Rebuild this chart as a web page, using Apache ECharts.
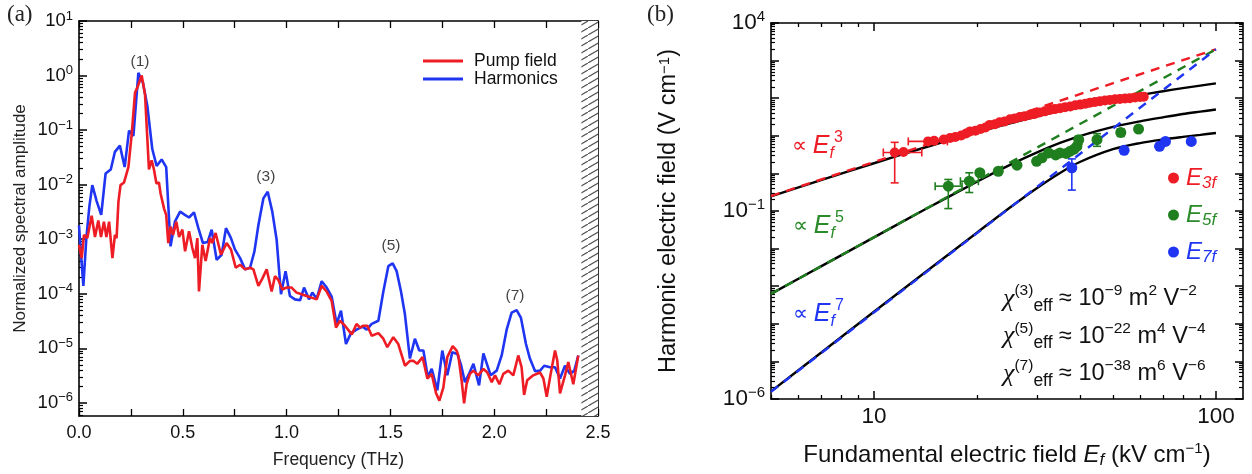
<!DOCTYPE html>
<html><head><meta charset="utf-8">
<script src="https://cdn.jsdelivr.net/npm/echarts@6/dist/echarts.min.js"></script>
<style>html,body{margin:0;padding:0;background:#fff}#c{width:1252px;height:474px}</style>
</head><body><div id="c"></div>
<script>
// ---------- Panel (a) data ----------
const freqHarm = [0.000,0.010,0.021,0.035,0.050,0.064,0.085,0.107,0.128,0.153,0.173,0.197,0.220,0.241,0.262,0.286,0.308,0.329,0.353,0.374,0.398,0.420,0.441,0.462,0.487,0.510,0.530,0.554,0.575,0.597,0.620,0.639,0.663,0.687,0.708,0.732,0.751,0.776,0.800,0.824,0.845,0.864,0.888,0.909,0.931,0.952,0.973,0.995,1.016,1.040,1.065,1.084,1.108,1.124,1.145,1.169,1.193,1.217,1.241,1.262,1.286,1.310,1.337,1.366,1.386,1.410,1.442,1.466,1.490,1.511,1.530,1.551,1.570,1.594,1.618,1.639,1.659,1.680,1.699,1.726,1.750,1.774,1.798,1.822,1.840,1.859,1.880,1.900,1.927,1.948,1.983,2.012,2.036,2.060,2.084,2.108,2.129,2.153,2.172,2.197,2.221,2.241,2.269,2.293,2.317,2.341,2.365,2.386,2.405];
const ampHarm = [1.8e-3,5.0e-4,1.4e-4,1.0e-3,4.0e-3,9.8e-3,5.0e-3,2.8e-3,1.6e-2,1.9e-2,4.0e-2,5.2e-2,2.1e-2,9.8e-2,7.8e-2,1.12,0.74,0.28,4.5e-2,2.2e-2,2.9e-2,2.1e-2,7.4e-4,2.1e-3,3.2e-3,2.8e-3,2.5e-3,3.1e-3,1.6e-3,8.5e-4,8.9e-4,1.5e-3,4.2e-4,5.2e-4,1.6e-3,1.05e-3,6.5e-4,4.5e-4,2.8e-4,3.0e-4,6.0e-4,1.8e-3,5.6e-3,7.4e-3,3.2e-3,9.8e-4,9.8e-5,2.6e-4,9.1e-5,7.9e-5,7.6e-5,1.3e-4,7.9e-5,1.05e-4,8.1e-5,1.7e-4,1.3e-4,8.9e-5,2.8e-5,4.9e-5,1.2e-5,1.9e-5,2.2e-5,2.5e-5,2.2e-5,2.8e-5,3.2e-5,1.1e-4,3.2e-4,3.6e-4,2.6e-4,1.1e-4,4.2e-5,6.5e-6,1.5e-5,9.1e-6,9.1e-6,3.0e-6,4.2e-6,1.7e-6,9.1e-6,3.2e-6,8.5e-6,7.9e-6,5.0e-6,2.4e-6,3.5e-6,5.2e-6,2.1e-6,8.1e-6,3.2e-6,3.9e-6,7.4e-6,2.2e-5,4.5e-5,5.0e-5,3.6e-5,1.2e-5,6.5e-6,3.8e-6,3.9e-6,4.8e-6,4.5e-6,4.5e-6,2.8e-6,4.8e-6,3.4e-6,3.9e-6,7.4e-6];
const freqPump = [0.000,0.013,0.024,0.040,0.061,0.077,0.093,0.106,0.120,0.132,0.145,0.161,0.173,0.181,0.190,0.200,0.217,0.238,0.254,0.270,0.281,0.302,0.318,0.337,0.350,0.361,0.373,0.385,0.393,0.410,0.420,0.430,0.441,0.453,0.469,0.482,0.498,0.511,0.530,0.546,0.559,0.570,0.578,0.594,0.610,0.631,0.642,0.658,0.684,0.711,0.732,0.755,0.776,0.800,0.824,0.840,0.864,0.883,0.904,0.928,0.944,0.960,0.979,1.000,1.024,1.048,1.072,1.096,1.120,1.145,1.169,1.193,1.217,1.238,1.257,1.281,1.314,1.337,1.354,1.370,1.389,1.410,1.442,1.466,1.485,1.514,1.538,1.570,1.594,1.610,1.629,1.655,1.678,1.699,1.720,1.736,1.755,1.774,1.800,1.819,1.827,1.843,1.855,1.867,1.883,1.900,1.923,1.948,1.967,1.988,2.004,2.025,2.044,2.068,2.092,2.116,2.132,2.144,2.159,2.188,2.221,2.237,2.253,2.272,2.293,2.304,2.317,2.341,2.357,2.381,2.405];
const ampPump = [7.9e-4,4.5e-4,1.2e-3,1.05e-3,2.7e-3,1.1e-3,2.2e-3,1.1e-3,2.1e-3,1.1e-3,2.1e-3,4.5e-4,1.2e-3,1.05e-3,4.9e-3,9.8e-3,1.1e-2,2.1e-2,8.5e-2,0.49,0.6,1.0,0.45,1.9e-2,2.8e-2,1.9e-2,1.05e-2,1.1e-2,6.9e-3,3.6e-3,2.8e-3,8.5e-4,1.7e-3,1.2e-3,2.1e-3,1.1e-3,1.5e-3,6.0e-4,1.4e-3,6.9e-4,4.5e-4,1.05e-3,1.1e-4,7.9e-4,4.0e-4,1.05e-3,8.5e-4,1.3e-3,5.2e-4,8.5e-4,6.5e-4,3.0e-4,3.4e-4,2.8e-4,3.0e-4,2.8e-4,1.4e-4,1.9e-4,2.8e-4,1.1e-4,2.1e-4,1.8e-4,1.2e-4,1.3e-4,1.3e-4,1.05e-4,9.8e-5,9.1e-5,8.5e-5,7.9e-5,1.4e-4,1.1e-4,7.4e-5,2.4e-5,3.2e-5,2.6e-5,1.8e-5,2.8e-5,2.4e-5,2.6e-5,2.6e-5,1.7e-5,1.9e-5,1.5e-5,1.05e-5,1.6e-5,1.2e-5,4.8e-6,5.9e-6,5.9e-6,5.2e-6,6.9e-6,2.8e-6,3.4e-6,1.5e-6,1.1e-6,1.9e-6,6.9e-6,1.1e-5,9.1e-6,7.4e-6,2.6e-6,9.8e-7,2.2e-6,3.4e-6,3.9e-6,3.2e-6,4.2e-6,3.6e-6,2.4e-6,3.2e-6,2.2e-6,3.4e-6,3.9e-6,3.2e-6,7.4e-6,4.5e-6,1.4e-6,2.6e-6,3.2e-6,3.6e-6,2.8e-6,1.3e-6,3.4e-6,9.1e-6,5.9e-6,1.5e-6,3.2e-6,5.6e-6,2.2e-6,7.4e-6];
const peakText = ['(1)','(3)','(5)','(7)'];
const peakFreq = [0.294, 0.90, 1.503, 2.10];
const peakAmp = [1.8, 1.4e-2, 7.5e-4, 9.2e-5];
const hatchFrom = 2.42, hatchTo = 2.5;
const yDecadesA = [1e-6,1e-5,1e-4,1e-3,1e-2,1e-1,1,10];

// ---------- Panel (b) data ----------
const fitField = [5, 100];
const fit3 = [0.25, 2000];
const fit5 = [6.25e-4, 2000];
const fit7 = [1.56e-6, 2000];
const curveField = [5,7,10,14,20,25,30,35,40,50,60,70,80,90,100];
const curve3 = [0.245,0.661,1.86,4.81,12.4,21.6,32.9,45.8,59.8,90.2,121,153,185,216,247];
const curve5 = [6.25e-4,3.36e-3,1.99e-2,0.106,0.6,1.68,3.62,6.44,9.86,17.3,24.2,31,38,44,50];
const curve7 = [1.6e-6,1.7e-5,2.1e-4,2.2e-3,2.65e-2,0.124,0.41,1.03,2.01,4.4,6.4,8.0,9.35,10.6,11.9];
const e3Field = [11.5,12.2,14.4,15.0,16.0,16.7,17.3,18.0,18.6,19.1,19.8,20.5,21.2,21.8,22.6,23.3,24.1,25.0,25.8,26.7,27.6,28.6,29.5,30.5,31.6,32.7,33.8,35.0,36.2,37.5,38.8,40.1,41.5,42.8,44.3,45.8,47.4,49.0,50.7,52.4,54.2,56.0,58.0,60.0,61.5];
const e3Value = [3.6,3.7,7.1,7.4,8.0,8.7,9.3,10.2,11.5,13.1,13.6,15.1,16.6,19.5,20.4,22.9,24.0,27.5,28.8,31.6,33.1,36.3,38.0,41.7,44.7,49.0,51.3,54.0,57.5,60.3,64.6,67.6,71.0,75.9,79.4,83.2,87.1,90.2,93.3,95.5,97.7,100,105,108,110];
const e5Field = [16.5,19.0,20.4,23.1,26.2,29.9,31.0,32.4,34.0,35.0,36.5,37.5,38.5,39.2,39.7,44.9,52.7,59.4];
const e5Value = [0.458,0.62,1.04,1.14,1.65,2.1,2.6,3.5,3.1,3.5,3.4,3.9,4.4,5.2,7.9,7.9,12.3,15.1];
const e7Field = [37.9,53.9,68.4,71.2,84.7];
const e7Value = [1.41,4.1,5.25,7.1,7.1];
// error bars: [E, V, Elow, Ehigh, Vlow, Vhigh]
const err3 = [[11.5,3.6,10.65,13.8,0.56,6.7],[14.4,7.1,12.6,16.4,6.4,7.9]];
const err5 = [[16.5,0.458,15.1,18.1,0.116,0.69],[19.0,0.62,17.9,20.2,0.31,1.04],[39.7,7.9,39.0,40.5,5.9,9.8],[44.9,7.9,44.2,45.6,5.25,11.4],[52.7,12.3,52.0,53.4,9.6,15.2]];
const err7 = [[37.9,1.41,37.2,38.6,0.36,2.43]];
const xMajorB = [10,100];
const xMinorB = [5,6,7,8,9,20,30,40,50,60,70,80,90];
const yLabelB = [1e-6,1e-1,1e4];

// ---------- helpers ----------
const RED='#ee1c24', BLUE='#1f35f2', GREEN='#1f7f1f', GREEN_T='#2a8a2a';
const FONT='"Liberation Sans", Arial, Helvetica, sans-serif';
const zip=(a,b)=>a.map((v,i)=>[v,b[i]]);
const decades=(a,b)=>{const r=[];for(let e=a;e<=b;e++)r.push(Math.pow(10,e));return r;};
const minors=(a,b)=>{const r=[];for(let e=a;e<b;e++)for(let k=2;k<=9;k++)r.push(k*Math.pow(10,e));return r;};
const expLabel=v=>{const e=Math.round(Math.log10(v));return '{b|10}{s|'+(e<0?'\u2212'+(-e):e)+'}';};

function hatchPattern(){
  const c=document.createElement('canvas');c.width=12;c.height=7;
  const g=c.getContext('2d');g.fillStyle='#fff';g.fillRect(0,0,12,7);
  g.strokeStyle='#555';g.lineWidth=1.2;g.beginPath();g.moveTo(-2,8.17);g.lineTo(14,-1.17);g.stroke();
  return c;
}

const axisLine={show:true,lineStyle:{color:'#000',width:1.6}};
const noSplit={show:false};

function errRender(color){
  return function(params, api){
    const x=api.value(0), y=api.value(1);
    const a=api.coord([api.value(2),y]), b=api.coord([api.value(3),y]);
    const c=api.coord([x,api.value(4)]), d=api.coord([x,api.value(5)]);
    const st={stroke:color,lineWidth:1.6};const cap=4;
    return {type:'group',children:[
      {type:'line',shape:{x1:a[0],y1:a[1],x2:b[0],y2:b[1]},style:st},
      {type:'line',shape:{x1:a[0],y1:a[1]-cap,x2:a[0],y2:a[1]+cap},style:st},
      {type:'line',shape:{x1:b[0],y1:b[1]-cap,x2:b[0],y2:b[1]+cap},style:st},
      {type:'line',shape:{x1:c[0],y1:c[1],x2:d[0],y2:d[1]},style:st},
      {type:'line',shape:{x1:c[0]-cap,y1:c[1],x2:c[0]+cap,y2:c[1]},style:st},
      {type:'line',shape:{x1:d[0]-cap,y1:d[1],x2:d[0]+cap,y2:d[1]},style:st}
    ]};
  };
}

const aMin=5.75e-7, aMax=10;
const richA={b:{fontSize:18.5,fontFamily:FONT,color:'#111',lineHeight:23},s:{fontSize:13,fontFamily:FONT,color:'#111',verticalAlign:'top'}};
const richB={b:{fontSize:22.5,fontFamily:FONT,color:'#111',lineHeight:28},s:{fontSize:15,fontFamily:FONT,color:'#111',verticalAlign:'top'}};

function propText(color, n){
  return {text:'{p|\u221D }{e|E}{sb|f}{sp|'+n+'}',rich:{
    p:{fontSize:21,fontFamily:FONT,fill:color,lineHeight:32},
    e:{fontSize:25,fontFamily:FONT,fontStyle:'italic',fill:color,lineHeight:32},
    sb:{fontSize:16,fontFamily:FONT,fontStyle:'italic',fill:color,verticalAlign:'bottom'},
    sp:{fontSize:16,fontFamily:FONT,fill:color,verticalAlign:'top'}}};
}

const option={
  backgroundColor:'#fff',
  animation:false,
  grid:[
    {left:79,top:21,width:519,height:398},
    {left:771,top:23,width:472,height:379}
  ],
  xAxis:[
    {gridIndex:0,type:'value',min:0,max:2.5,interval:0.25,position:'bottom',axisLine,
     axisTick:{inside:true,length:7,lineStyle:{color:'#000',width:1.3}},
     axisLabel:{color:'#111',fontSize:18,fontFamily:FONT,margin:8,
       formatter:v=>Math.abs(v*2-Math.round(v*2))<1e-6?v.toFixed(1):''},
     splitLine:noSplit,name:'Frequency (THz)',nameLocation:'middle',nameGap:35,
     nameTextStyle:{fontSize:17.5,fontFamily:FONT,color:'#222'}},
    {gridIndex:0,type:'value',min:0,max:2.5,interval:0.25,position:'top',axisLine,
     axisTick:{inside:true,length:7,lineStyle:{color:'#000',width:1.3}},axisLabel:{show:false},splitLine:noSplit},
    {gridIndex:1,type:'log',min:5,max:120,position:'bottom',axisLine,
     axisTick:{inside:true,length:8,customValues:xMajorB,lineStyle:{color:'#000',width:1.5}},
     axisLabel:{customValues:xMajorB,color:'#111',fontSize:22.5,fontFamily:FONT,margin:6,formatter:v=>String(Math.round(v))},
     splitLine:noSplit,
     name:'Fundamental electric field {i|E}{sb|f} (kV cm{sp|\u22121})',nameLocation:'middle',nameGap:42,
     nameTextStyle:{fontSize:24,fontFamily:FONT,color:'#111',rich:{
       i:{fontSize:24,fontFamily:FONT,fontStyle:'italic',color:'#111',lineHeight:28},
       sb:{fontSize:17,fontFamily:FONT,fontStyle:'italic',color:'#111',verticalAlign:'bottom'},
       sp:{fontSize:15,fontFamily:FONT,color:'#111',verticalAlign:'top'}}}},
    {gridIndex:1,type:'log',min:5,max:120,position:'bottom',axisLine:{show:false},
     axisTick:{inside:true,length:4,customValues:xMinorB,lineStyle:{color:'#000',width:1.3}},axisLabel:{show:false},splitLine:noSplit},
    {gridIndex:1,type:'log',min:5,max:120,position:'top',axisLine,
     axisTick:{inside:true,length:8,customValues:xMajorB,lineStyle:{color:'#000',width:1.5}},axisLabel:{show:false},splitLine:noSplit},
    {gridIndex:1,type:'log',min:5,max:120,position:'top',axisLine:{show:false},
     axisTick:{inside:true,length:4,customValues:xMinorB,lineStyle:{color:'#000',width:1.3}},axisLabel:{show:false},splitLine:noSplit}
  ],
  yAxis:[
    {gridIndex:0,type:'log',min:aMin,max:aMax,position:'left',axisLine,
     axisTick:{inside:true,length:8,customValues:yDecadesA,lineStyle:{color:'#000',width:1.5}},
     axisLabel:{customValues:yDecadesA,formatter:expLabel,rich:richA,margin:6},splitLine:noSplit,
     name:'Normalized spectral amplitude',nameLocation:'middle',nameGap:50,
     nameTextStyle:{fontSize:17,fontFamily:FONT,color:'#222'}},
    {gridIndex:0,type:'log',min:aMin,max:aMax,position:'left',axisLine:{show:false},
     axisTick:{inside:true,length:4,customValues:minors(-7,1).filter(v=>v>=aMin),lineStyle:{color:'#000',width:1.2}},
     axisLabel:{show:false},splitLine:noSplit},
    {gridIndex:0,type:'log',min:aMin,max:aMax,position:'right',axisLine,axisTick:{show:false},axisLabel:{show:false},splitLine:noSplit},
    {gridIndex:1,type:'log',min:1e-6,max:1e4,position:'left',axisLine,
     axisTick:{inside:true,length:8,customValues:decades(-6,4),lineStyle:{color:'#000',width:1.5}},
     axisLabel:{customValues:yLabelB,formatter:expLabel,rich:richB,margin:6},splitLine:noSplit,
     name:'Harmonic electric field (V cm{sp|\u22121})',nameLocation:'middle',nameGap:90,
     nameTextStyle:{fontSize:23.5,fontFamily:FONT,color:'#111',rich:{sp:{fontSize:15,fontFamily:FONT,color:'#111',verticalAlign:'top'}}}},
    {gridIndex:1,type:'log',min:1e-6,max:1e4,position:'left',axisLine:{show:false},
     axisTick:{inside:true,length:4,customValues:minors(-6,4),lineStyle:{color:'#000',width:1.2}},axisLabel:{show:false},splitLine:noSplit},
    {gridIndex:1,type:'log',min:1e-6,max:1e4,position:'right',axisLine,
     axisTick:{inside:true,length:8,customValues:decades(-6,4),lineStyle:{color:'#000',width:1.5}},axisLabel:{show:false},splitLine:noSplit},
    {gridIndex:1,type:'log',min:1e-6,max:1e4,position:'right',axisLine:{show:false},
     axisTick:{inside:true,length:4,customValues:minors(-6,4),lineStyle:{color:'#000',width:1.2}},axisLabel:{show:false},splitLine:noSplit}
  ],
  legend:[
    {data:['Pump field','Harmonics'],orient:'vertical',left:418,top:47,itemWidth:40,itemHeight:3,itemGap:0,icon:'rect',
     textStyle:{fontSize:17.5,fontFamily:FONT,color:'#111',lineHeight:18,padding:[0,0,0,6]},selectedMode:false},
    {data:['E3f','E5f','E7f'],orient:'vertical',left:1163,top:161,itemWidth:11,itemHeight:11,itemGap:11,icon:'circle',selectedMode:false,
     formatter:n=>'{e'+n[1]+'|E}{s'+n[1]+'|'+n[1]+'f}',
     textStyle:{padding:[0,0,0,2],rich:{
       e3:{fontSize:24,fontFamily:FONT,fontStyle:'italic',color:RED,lineHeight:28},
       s3:{fontSize:17,fontFamily:FONT,fontStyle:'italic',color:RED,verticalAlign:'bottom'},
       e5:{fontSize:24,fontFamily:FONT,fontStyle:'italic',color:GREEN_T,lineHeight:28},
       s5:{fontSize:17,fontFamily:FONT,fontStyle:'italic',color:GREEN_T,verticalAlign:'bottom'},
       e7:{fontSize:24,fontFamily:FONT,fontStyle:'italic',color:BLUE,lineHeight:28},
       s7:{fontSize:17,fontFamily:FONT,fontStyle:'italic',color:BLUE,verticalAlign:'bottom'}}}}
  ],
  graphic:[
    {type:'text',left:7,top:3,style:{text:'(a)',font:'23px "Liberation Serif", "Times New Roman", serif',fill:'#222'}},
    {type:'text',left:647,top:3,style:{text:'(b)',font:'23px "Liberation Serif", "Times New Roman", serif',fill:'#222'}},
    {type:'text',left:792,top:130,style:propText(RED,'3')},
    {type:'text',left:793,top:210,style:propText(GREEN_T,'5')},
    {type:'text',left:793,top:298,style:propText(BLUE,'7')}
  ].concat([['3','9','2','2'],['5','22','4','4'],['7','38','6','6']].map((r,i)=>({
    type:'text',left:1003,top:283+i*37.5,style:{
      text:'{c|\u03C7}{sp|('+r[0]+')}{sb|eff}{t| \u2248 10}{sp|\u2212'+r[1]+'}{t| m}{sp|'+r[2]+'}{t| V}{sp|\u2212'+r[3]+'}',
      rich:{c:{fontSize:26,fontFamily:'"Liberation Serif", serif',fontStyle:'italic',fill:'#111',lineHeight:32},
        t:{fontSize:23.5,fontFamily:FONT,fill:'#111',lineHeight:32},
        sp:{fontSize:15.5,fontFamily:FONT,fill:'#111',verticalAlign:'top'},
        sb:{fontSize:17.5,fontFamily:FONT,fill:'#111',verticalAlign:'bottom'}}}}))),
  series:[
    {name:'Harmonics',type:'line',xAxisIndex:0,yAxisIndex:0,data:zip(freqHarm,ampHarm),showSymbol:false,
     lineStyle:{color:BLUE,width:2.6},itemStyle:{color:BLUE},z:2,
     markArea:{silent:true,itemStyle:{color:{image:hatchPattern(),repeat:'repeat'}},data:[[{xAxis:hatchFrom},{xAxis:hatchTo}]]}},
    {name:'Pump field',type:'line',xAxisIndex:0,yAxisIndex:0,data:zip(freqPump,ampPump),showSymbol:false,
     lineStyle:{color:RED,width:2.6},itemStyle:{color:RED},z:3},
    {name:'peaks',type:'scatter',xAxisIndex:0,yAxisIndex:0,data:zip(peakFreq,peakAmp),symbolSize:1,itemStyle:{color:'rgba(0,0,0,0)'},
     label:{show:true,position:'inside',formatter:p=>peakText[p.dataIndex],fontSize:15.5,fontFamily:FONT,color:'#111'},z:4},
    // panel b
    {name:'sat3',type:'line',xAxisIndex:2,yAxisIndex:3,data:zip(curveField,curve3),showSymbol:false,smooth:0.3,lineStyle:{color:'#000',width:2.4},z:2},
    {name:'sat5',type:'line',xAxisIndex:2,yAxisIndex:3,data:zip(curveField,curve5),showSymbol:false,smooth:0.3,lineStyle:{color:'#000',width:2.4},z:2},
    {name:'sat7',type:'line',xAxisIndex:2,yAxisIndex:3,data:zip(curveField,curve7),showSymbol:false,smooth:0.3,lineStyle:{color:'#000',width:2.4},z:2},
    {name:'fit3',type:'line',xAxisIndex:2,yAxisIndex:3,data:zip(fitField,fit3),showSymbol:false,lineStyle:{color:RED,width:2.4,type:[9,7]},z:3},
    {name:'fit5',type:'line',xAxisIndex:2,yAxisIndex:3,data:zip(fitField,fit5),showSymbol:false,lineStyle:{color:GREEN,width:2.4,type:[9,7]},z:3},
    {name:'fit7',type:'line',xAxisIndex:2,yAxisIndex:3,data:zip(fitField,fit7),showSymbol:false,lineStyle:{color:BLUE,width:2.4,type:[9,7]},z:3},
    {name:'err3',type:'custom',xAxisIndex:2,yAxisIndex:3,data:err3,renderItem:errRender(RED),encode:{x:[0,2,3],y:[1,4,5]},z:4},
    {name:'err5',type:'custom',xAxisIndex:2,yAxisIndex:3,data:err5,renderItem:errRender(GREEN),encode:{x:[0,2,3],y:[1,4,5]},z:4},
    {name:'err7',type:'custom',xAxisIndex:2,yAxisIndex:3,data:err7,renderItem:errRender(BLUE),encode:{x:[0,2,3],y:[1,4,5]},z:4},
    {name:'E3f',type:'scatter',xAxisIndex:2,yAxisIndex:3,data:zip(e3Field,e3Value),symbolSize:10,itemStyle:{color:RED,opacity:1},z:5},
    {name:'E5f',type:'scatter',xAxisIndex:2,yAxisIndex:3,data:zip(e5Field,e5Value),symbolSize:11,itemStyle:{color:GREEN,opacity:1},z:5},
    {name:'E7f',type:'scatter',xAxisIndex:2,yAxisIndex:3,data:zip(e7Field,e7Value),symbolSize:11,itemStyle:{color:BLUE,opacity:1},z:5}
  ]
};
const chart=echarts.init(document.getElementById('c'),null,{renderer:'canvas'});
chart.setOption(option);
</script></body></html>
